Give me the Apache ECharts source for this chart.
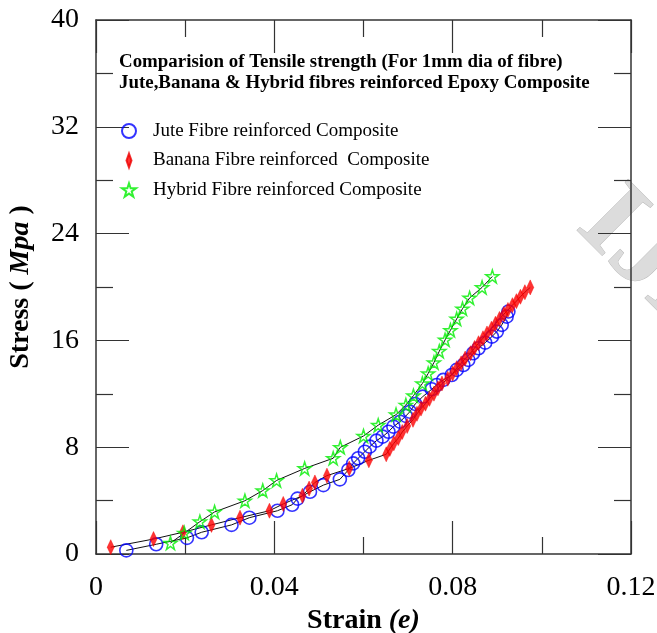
<!DOCTYPE html>
<html>
<head>
<meta charset="utf-8">
<script src="https://cdn.jsdelivr.net/npm/echarts@6/dist/echarts.min.js"></script>
<style>
html,body{margin:0;padding:0;background:#fff;}
#chart{width:657px;height:633px;}
</style>
</head>
<body>
<div id="chart"></div>
<script>
// ---- Data ----
var xTicks = [0, 0.04, 0.08, 0.12];
var yTicks = [0, 8, 16, 24, 32, 40];

var seriesNames = [
  'Jute Fibre reinforced Composite',
  'Banana Fibre reinforced  Composite',
  'Hybrid Fibre reinforced Composite'
];

var juteStrain = [0.0068,0.0135,0.0204,0.0237,0.0304,0.0344,0.0407,0.0440,0.0452,0.0480,0.0510,0.0547,0.0566,0.0577,0.0588,0.0603,0.0614,0.0629,0.0643,0.0656,0.0667,0.0682,0.0695,0.0704,0.0716,0.0733,0.0753,0.0764,0.0779,0.0798,0.0809,0.0824,0.0835,0.0846,0.0858,0.0873,0.0888,0.0899,0.0910,0.0921,0.0925];
var juteStress = [0.27,0.73,1.21,1.63,2.18,2.72,3.24,3.69,4.15,4.66,5.16,5.59,6.29,6.79,7.17,7.66,8.04,8.49,8.79,9.16,9.54,9.91,10.34,10.66,11.24,11.79,12.34,12.66,13.04,13.41,13.79,14.16,14.54,15.04,15.41,15.83,16.28,16.66,17.16,17.78,18.16];

var bananaStrain = [0.0033,0.0129,0.0195,0.0259,0.0323,0.0389,0.0420,0.0463,0.0478,0.0491,0.0518,0.0568,0.0612,0.0651,0.0659,0.0668,0.0678,0.0687,0.0698,0.0711,0.0720,0.0729,0.0739,0.0748,0.0758,0.0767,0.0776,0.0789,0.0800,0.0809,0.0819,0.0828,0.0840,0.0849,0.0858,0.0868,0.0877,0.0887,0.0896,0.0905,0.0915,0.0924,0.0934,0.0943,0.0952,0.0962,0.0974];
var bananaStress = [0.51,1.12,1.63,2.18,2.72,3.24,3.75,4.36,4.90,5.36,5.87,6.41,7.02,7.47,7.87,8.29,8.68,9.14,9.59,10.05,10.50,10.89,11.26,11.62,12.01,12.41,12.77,13.13,13.52,13.92,14.28,14.64,15.04,15.43,15.79,16.16,16.52,16.88,17.25,17.61,17.97,18.28,18.64,18.94,19.27,19.61,19.97];

var hybridStrain = [0.0167,0.0198,0.0233,0.0266,0.0334,0.0374,0.0405,0.0468,0.0532,0.0548,0.0600,0.0633,0.0673,0.0695,0.0712,0.0732,0.0745,0.0758,0.0770,0.0783,0.0795,0.0809,0.0822,0.0838,0.0866,0.0889];
var hybridStress = [0.82,1.57,2.42,3.15,3.99,4.75,5.51,6.41,7.17,7.99,8.84,9.65,10.44,11.16,11.86,12.77,13.52,14.34,15.19,16.04,16.76,17.61,18.37,19.18,19.97,20.79];

var titleLines = [
  'Comparision of Tensile strength (For 1mm dia of fibre)',
  'Jute,Banana & Hybrid fibres reinforced Epoxy Composite'
];

// ---- Build chart ----
function pairs(xs, ys){ return xs.map(function(x,i){ return [x, ys[i]]; }); }

var SERIF = '"Liberation Serif", "Times New Roman", serif';
var STAR = 'path://M50,2 L61,36 L97,36 L68,57 L79,92 L50,71 L21,92 L32,57 L3,36 L39,36 Z';
var AXC = '#333';

function xAx(pos, showLabel){
  return {
    type:'value', position:pos, min:0, max:0.12, interval:0.04,
    axisLine:{show:true, onZero:false, lineStyle:{color:AXC, width:1.5}},
    axisTick:{show:true, inside:true, length:33, lineStyle:{color:AXC, width:1.2}},
    minorTick:{show:true, splitNumber:2, length:17, lineStyle:{color:AXC, width:1.2}},
    splitLine:{show:false}, minorSplitLine:{show:false},
    axisLabel:{show:showLabel, color:'#000', fontSize:28, fontFamily:SERIF, margin:20,
      formatter:function(v){ return String(+v.toFixed(2)); }},
    name: showLabel ? '{b|Strain }{i|(e)}' : '',
    nameLocation:'middle', nameGap:50,
    nameTextStyle:{rich:{
      b:{fontSize:28, fontWeight:'bold', fontFamily:SERIF, color:'#000'},
      i:{fontSize:28, fontWeight:'bold', fontStyle:'italic', fontFamily:SERIF, color:'#000'}
    }}
  };
}
function yAx(pos, showLabel){
  return {
    type:'value', position:pos, min:0, max:40, interval:8,
    axisLine:{show:true, onZero:false, lineStyle:{color:AXC, width:1.5}},
    axisTick:{show:true, inside:true, length:33, lineStyle:{color:AXC, width:1.2}},
    minorTick:{show:true, splitNumber:2, length:17, lineStyle:{color:AXC, width:1.2}},
    splitLine:{show:false}, minorSplitLine:{show:false},
    axisLabel:{show:showLabel, color:'#000', fontSize:28, fontFamily:SERIF, margin:17},
    name: showLabel ? '{b|Stress ( }{i|Mpa}{b| )}' : '',
    nameLocation:'middle', nameGap:61, nameRotate:90,
    nameTextStyle:{rich:{
      b:{fontSize:28, fontWeight:'bold', fontFamily:SERIF, color:'#000'},
      i:{fontSize:28, fontWeight:'bold', fontStyle:'italic', fontFamily:SERIF, color:'#000'}
    }}
  };
}

var lineStyleBlack = {color:'#111', width:1};

var option = {
  backgroundColor:'#fff',
  animation:false,
  title:{
    text: titleLines.join('\n'),
    left:114, top:47,
    textStyle:{fontFamily:SERIF, fontWeight:'bold', fontSize:18.9, lineHeight:21, color:'#000'}
  },
  legend:{
    orient:'vertical', left:116, top:116,
    itemWidth:14, itemHeight:14, itemGap:9.5,
    textStyle:{fontFamily:SERIF, fontSize:19, lineHeight:20, color:'#000', padding:[0,0,0,12]},
    data:[
      {name:seriesNames[0], icon:'circle'},
      {name:seriesNames[1], icon:'path://M5,0L10,14L5,28L0,14Z'},
      {name:seriesNames[2], icon:STAR}
    ]
  },
  grid:{left:96, top:20, width:535, height:534, containLabel:false, outerBoundsMode:'none'},
  xAxis:[xAx('bottom', true), xAx('top', false)],
  yAxis:[yAx('left', true), yAx('right', false)],
  graphic:[{
    type:'text', left:555, top:168, rotation:-Math.PI/4, z:-10, silent:true,
    style:{text:'IJERT', fontSize:110, fontWeight:'bold', fontFamily:SERIF, fill:'#dcdcdc', stroke:'#bbb', lineWidth:1}
  }],
  series:[
    {type:'line', data:pairs(juteStrain, juteStress), showSymbol:false, lineStyle:lineStyleBlack, silent:true, z:1},
    {type:'line', data:pairs(bananaStrain, bananaStress), showSymbol:false, lineStyle:lineStyleBlack, silent:true, z:1},
    {type:'line', data:pairs(hybridStrain, hybridStress), showSymbol:false, lineStyle:lineStyleBlack, silent:true, z:1},
    {name:seriesNames[0], type:'scatter', data:pairs(juteStrain, juteStress), symbol:'circle', symbolSize:13, z:3,
      itemStyle:{color:'rgba(0,0,0,0)', borderColor:'#0000ff', borderWidth:1.6}},
    {name:seriesNames[1], type:'scatter', data:pairs(bananaStrain, bananaStress), symbol:'diamond', symbolSize:[7,15], z:4,
      itemStyle:{color:'#ff0000', borderColor:'#ee0000', borderWidth:0.5}},
    {name:seriesNames[2], type:'scatter', data:pairs(hybridStrain, hybridStress), symbol:STAR, symbolSize:13, z:5,
      itemStyle:{color:'rgba(0,0,0,0)', borderColor:'#00ee00', borderWidth:1.5}}
  ]
};

var chart = echarts.init(document.getElementById('chart'), null, {renderer:'canvas'});
chart.setOption(option);
</script>
</body>
</html>
